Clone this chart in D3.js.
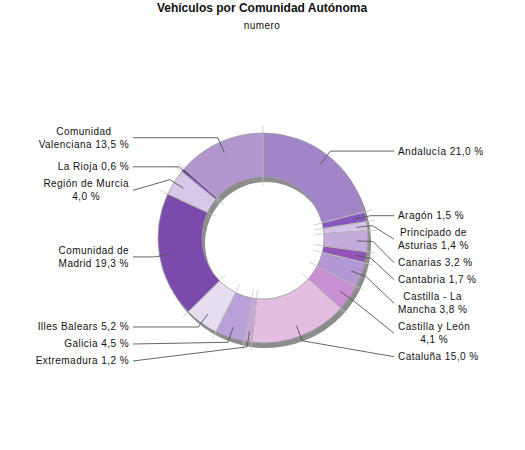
<!DOCTYPE html>
<html>
<head>
<meta charset="utf-8">
<script src="https://cdn.jsdelivr.net/npm/d3@7"></script>
<style>
  body { margin: 0; background: #fff; }
  text { font-family: "Liberation Sans", Arial, sans-serif; fill: #111; }
</style>
</head>
<body>
<svg id="chart" width="525" height="450"></svg>
<script>
// data, clockwise from 12 o'clock
const regions = [
  'Andalucía', 'Aragón', 'Principado de Asturias', 'Canarias', 'Cantabria',
  'Castilla - La Mancha', 'Castilla y León', 'Cataluña', 'Extremadura',
  'Galicia', 'Illes Balears', 'Comunidad de Madrid', 'Región de Murcia',
  'La Rioja', 'Comunidad Valenciana'
];
const shares = [21.0, 1.5, 1.4, 3.2, 1.7, 3.8, 4.1, 15.0, 1.2, 4.5, 5.2, 19.3, 4.0, 0.6, 13.5];
const colors = [
  '#a285c9', '#8758c0', '#d3c3e6', '#c3acdd', '#9355b8',
  '#b498d5', '#c890d2', '#e3bde2', '#c8a7dc', '#b9a0d8',
  '#e6ddf0', '#7a4bac', '#d8c8e8', '#7d50b5', '#b197ce'
];
const title = 'Vehículos por Comunidad Autónoma';
const subtitle = 'numero';

const width = 525;
const height = 450;
const cx = 263, cy = 238;
const outerR = 105, innerR = 61;

const data = regions.map((name, i) => ({ name, value: shares[i], color: colors[i] }));
const fmt = v => v.toFixed(1).replace('.', ',') + ' %';

const svg = d3.select('#chart');

svg.append('text')
  .attr('x', 262).attr('y', 12)
  .attr('text-anchor', 'middle')
  .style('font-size', '12px').style('font-weight', 'bold')
  .text(title);

svg.append('text')
  .attr('x', 262).attr('y', 29)
  .attr('text-anchor', 'middle')
  .style('font-size', '10px').style('letter-spacing', '0.4px')
  .text(subtitle);

const arcs = d3.pie().sort(null).value(d => d.value)(data);
const arc = d3.arc().innerRadius(innerR).outerRadius(outerR);

const g = svg.append('g').attr('transform', `translate(${cx},${cy})`);

// grey depth layer, shifted down-right
g.append('g')
  .attr('transform', 'translate(3,5)')
  .selectAll('path')
  .data(arcs)
  .join('path')
  .attr('d', arc)
  .attr('fill', '#8c8c8c');

g.append('g')
  .selectAll('path')
  .data(arcs)
  .join('path')
  .attr('d', arc)
  .attr('fill', d => d.data.color)
  .attr('stroke', '#9a9a9a')
  .attr('stroke-width', 0.8);

// light radial lines on the slice edges
const polar = (r, a) => [r * Math.sin(a), -r * Math.cos(a)];
g.append('g')
  .selectAll('line')
  .data(arcs)
  .join('line')
  .attr('x1', d => polar(52, d.startAngle)[0])
  .attr('y1', d => polar(52, d.startAngle)[1])
  .attr('x2', d => polar(113, d.startAngle)[0])
  .attr('y2', d => polar(113, d.startAngle)[1])
  .attr('stroke', '#c4c4c4')
  .attr('stroke-width', 0.8);

// labels
const labelG = svg.append('g').style('font-size', '10px').style('letter-spacing', '0.45px');
const probe = labelG.append('text');
const measure = s => probe.text(s).node().getComputedTextLength();

function wrap(name, value) {
  const tokens = name.split(' ').concat([fmt(value)]);
  const lines = [];
  let cur = tokens[0];
  for (let i = 1; i < tokens.length; i++) {
    const next = cur + ' ' + tokens[i];
    if (measure(next) > 96) { lines.push(cur); cur = tokens[i]; }
    else cur = next;
  }
  lines.push(cur);
  return lines;
}

const labels = arcs.map(d => {
  const mid = (d.startAngle + d.endAngle) / 2;
  const lines = wrap(d.data.name, d.data.value);
  const h = 12 + 13 * (lines.length - 1);
  return {
    mid,
    side: mid < Math.PI ? 'right' : 'left',
    lines,
    h,
    y: cy - 110 * Math.cos(mid)
  };
});
probe.remove();

// push overlapping labels downwards on each side
['right', 'left'].forEach(side => {
  const list = labels.filter(l => l.side === side).sort((a, b) => a.y - b.y);
  let bottom = -Infinity;
  list.forEach(l => {
    let top = Math.max(l.y - l.h / 2, bottom + 5);
    l.y = top + l.h / 2;
    bottom = top + l.h;
  });
});

labels.forEach(l => {
  const right = l.side === 'right';
  const endX = right ? 394 : 133;
  const p1 = polar(94, l.mid), p2 = polar(110, l.mid);
  labelG.append('polyline')
    .attr('points', [[cx + p1[0], cy + p1[1]], [cx + p2[0], cy + p2[1]], [endX, l.y]].map(p => p.join(',')).join(' '))
    .attr('fill', 'none')
    .attr('stroke', '#555')
    .attr('stroke-width', 0.9);

  const t = labelG.append('text');
  const spans = l.lines.map((s, i) => t.append('tspan')
    .attr('y', l.y - l.h / 2 + 9.5 + 13 * i)
    .text(s));
  const widths = spans.map(s => s.node().getComputedTextLength());
  const maxW = d3.max(widths);
  const blockX = right ? endX + 4 : endX - 4 - maxW;
  spans.forEach((s, i) => s.attr('x', blockX + (maxW - widths[i]) / 2));
});
</script>
</body>
</html>
